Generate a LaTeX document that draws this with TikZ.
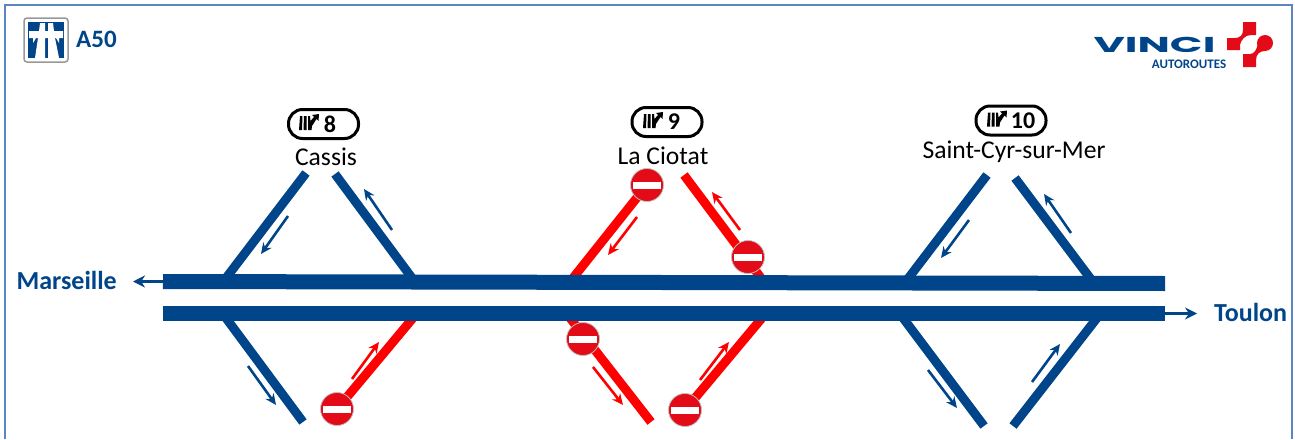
\documentclass[tikz,border=0pt]{standalone}
\usepackage{fontspec}
\setmainfont{Carlito}
\newfontfamily\logofont{Poppins}
\usetikzlibrary{arrows.meta}
\definecolor{roadblue}{HTML}{004489}
\definecolor{framecol}{HTML}{5B86C0}
\definecolor{signred}{HTML}{E30B17}
\tikzstyle{road} = [line width=15pt, roadblue]
\tikzstyle{ramp} = [line width=9pt, roadblue]
\tikzstyle{closed} = [line width=9pt, red]
\tikzstyle{town} = [font=\fontsize{25.6}{26}\selectfont, text=black, inner sep=0pt]
\tikzstyle{city} = [font=\fontsize{26}{27}\selectfont\bfseries, text=roadblue, inner sep=0pt]
\tikzstyle{exitno} = [draw=black, fill=white, line width=3pt, rounded corners=14pt, minimum width=70pt, minimum height=29pt]
\tikzstyle{exitnum} = [font=\fontsize{24}{24}\selectfont\bfseries, text=black, inner sep=0pt]
\tikzstyle{noentry} = [circle, fill=signred, draw=black!25, line width=0.8pt, minimum size=33pt, inner sep=0pt,
    path picture={\fill[white] ([xshift=-14pt,yshift=-3.5pt]path picture bounding box.center) rectangle ([xshift=14pt,yshift=3.5pt]path picture bounding box.center);}]
\tikzstyle{flowline} = [line width=2.6pt, -{Stealth[length=11pt,width=10pt]}]
\tikzstyle{cityline} = [line width=3pt, roadblue, -{Stealth[length=12pt,width=12pt]}]
\tikzset{exiticon/.pic={
    \fill[black] (-7,-8) -- (-4.5,-8) -- (-5,6) -- (-8,6) -- cycle;
    \fill[black] (-3,-8) -- (-0.5,-8) -- (-0.5,6) -- (-3.5,6) -- cycle;
    \fill[black] (1,-8) -- (3,-8) -- (3.5,-3) -- (7,-7) -- (5,-9) -- (12,-10) -- (11.5,-3) -- (9.5,-5) -- (5,2) -- (4.5,6) -- (1,6) -- cycle;
}}

\begin{document}
\begin{tikzpicture}[x=1pt, y=-1pt]
    \useasboundingbox (0,0) rectangle (1295,439);
    \draw[framecol, line width=1.5pt] (5,439) -- (5,5) -- (1292,5) -- (1292,439);

    % A50 sign
    \draw[black!40, fill=white, line width=1.5pt, rounded corners=3pt] (24,18) rectangle (68,62);
    \fill[roadblue] (28,22) rectangle (64,58);
    \fill[white] (29,31) -- (63,31) -- (63,38) -- (59,38) -- (59,43) -- (56,38) -- (36,38) -- (33,43) -- (33,38) -- (29,38) -- cycle;
    \fill[white] (40,23) -- (45,23) -- (45,31) -- (39,31) -- cycle;
    \fill[white] (48,23) -- (53,23) -- (54,31) -- (48,31) -- cycle;
    \fill[white] (38,38) -- (45,38) -- (45,58) -- (35,58) -- cycle;
    \fill[white] (48,38) -- (55,38) -- (59,58) -- (48,58) -- cycle;
    \node[anchor=west, inner sep=0pt, text=roadblue, font=\fontsize{25}{25}\selectfont\bfseries] (a50) at (76,39) {A50};

    % VINCI logo
    \node[inner sep=0pt, text=roadblue, xscale=2, text height=15pt, text depth=0pt, font=\logofont\fontsize{21.5}{21.5}\selectfont\bfseries] (vinci) at (1154.5,45) {VINCI};
    \node[inner sep=0pt, text=roadblue, text height=9pt, text depth=0pt, font=\fontsize{13}{13}\selectfont\bfseries] (autoroutes) at (1189,64) {AUTOROUTES};
    \fill[signred] (1243,22) -- (1256,22) -- (1256,35) -- (1251,35) .. controls (1245,35) and (1241,40) .. (1240,45) -- (1240,50) -- (1227,50) -- (1227,38) -- (1235,38) .. controls (1240,38) and (1243,35) .. (1243,30) -- cycle;
    \fill[signred] (1265,43) circle (8);
    \fill[signred] (1243,54) -- (1250,54) .. controls (1254,54) and (1257,50) .. (1258,43) -- (1265,51) .. controls (1260,51) and (1256,54) .. (1256,60) -- (1256,67) -- (1243,67) -- cycle;

    % ramps
    \coordinate (c1) at (306,173);  \coordinate (c2) at (226,278);
    \coordinate (c3) at (335,174);  \coordinate (c4) at (412,278);
    \coordinate (c5) at (226,318);  \coordinate (c6) at (303,422);
    \coordinate (c7) at (413,318);
    \coordinate (l1) at (573,278);
    \coordinate (l2) at (684,175);  \coordinate (l3) at (761,278);
    \coordinate (l4) at (570,318);  \coordinate (l5) at (651,422);
    \coordinate (l6) at (762,318);
    \coordinate (s1) at (987,175);  \coordinate (s2) at (907,280);
    \coordinate (s3) at (1015,178); \coordinate (s4) at (1093,282);
    \coordinate (s5) at (903,318);  \coordinate (s6) at (984,426);
    \coordinate (s7) at (1013,426); \coordinate (s8) at (1097,318);

    \coordinate (p1) at (337,409);
    \coordinate (p2) at (647,185);
    \coordinate (p5) at (685,410);

    \draw[ramp] (c1) -- (c2);
    \draw[ramp] (c3) -- (c4);
    \draw[ramp] (c5) -- (c6);
    \draw[closed] (p1) -- (c7);
    \draw[closed] (p2) -- (l1);
    \draw[closed] (l2) -- (l3);
    \draw[closed] (l4) -- (l5);
    \draw[closed] (p5) -- (l6);
    \draw[ramp] (s1) -- (s2);
    \draw[ramp] (s3) -- (s4);
    \draw[ramp] (s5) -- (s6);
    \draw[ramp] (s7) -- (s8);

    \node[noentry] (n1) at (p1) {};
    \node[noentry] (n2) at (p2) {};
    \node[noentry] (n3) at (748,257) {};
    \node[noentry] (n4) at (583,339) {};
    \node[noentry] (n5) at (p5) {};

    % motorway
    \coordinate (w1) at (163,281.5);  \coordinate (e1) at (1165,283.5);
    \coordinate (w2) at (163,313.5);  \coordinate (e2) at (1165,313.5);
    \draw[road] (w1) -- (e1);
    \draw[road] (w2) -- (e2);

    \node[city, anchor=east] (marseille) at (117,280) {Marseille};
    \node[city, anchor=west] (toulon) at (1214,312) {Toulon};
    \coordinate (wtip) at (133,281.5);
    \coordinate (etip) at (1197,313.5);
    \draw[cityline] (w1) -- (wtip);
    \draw[cityline] (e2) -- (etip);

    % direction arrows
    \foreach \n/\ax/\ay/\bx/\by/\col in {
        a/288/216/261/254/roadblue, b/392/230/364/189/roadblue, d/248/366/276/405/roadblue, e/352/379/379/342/red,
        f/637/217/608/255/red, g/740/230/712/192/red, h/593/367/623/405/red, i/700/380/729/342/red,
        j/969/220/941/258/roadblue, k/1071/233/1044/194/roadblue, m/928/370/957/408/roadblue, o/1032/382/1060/344/roadblue} {
        \coordinate (\n from) at (\ax,\ay);
        \coordinate (\n to) at (\bx,\by);
        \draw[flowline, \col] (\n from) -- (\n to);
    }

    % exits
    \node[exitno] (x8) at (323.5,124) {};
    \node[exitno] (x9) at (667,122) {};
    \node[exitno] (x10) at (1011,120.5) {};
    \pic at (307,124) {exiticon};
    \pic at (651,122) {exiticon};
    \pic at (995,120.5) {exiticon};
    \node[exitnum] at (330,124) {8};
    \node[exitnum] at (674,122) {9};
    \node[exitnum] at (1023,120.5) {10};

    \node[town] (cassis) at (326,157) {Cassis};
    \node[town] (ciotat) at (663,156) {La Ciotat};
    \node[town] (cyr) at (1014,152) {Saint-Cyr-sur-Mer};
\end{tikzpicture}
\end{document}
